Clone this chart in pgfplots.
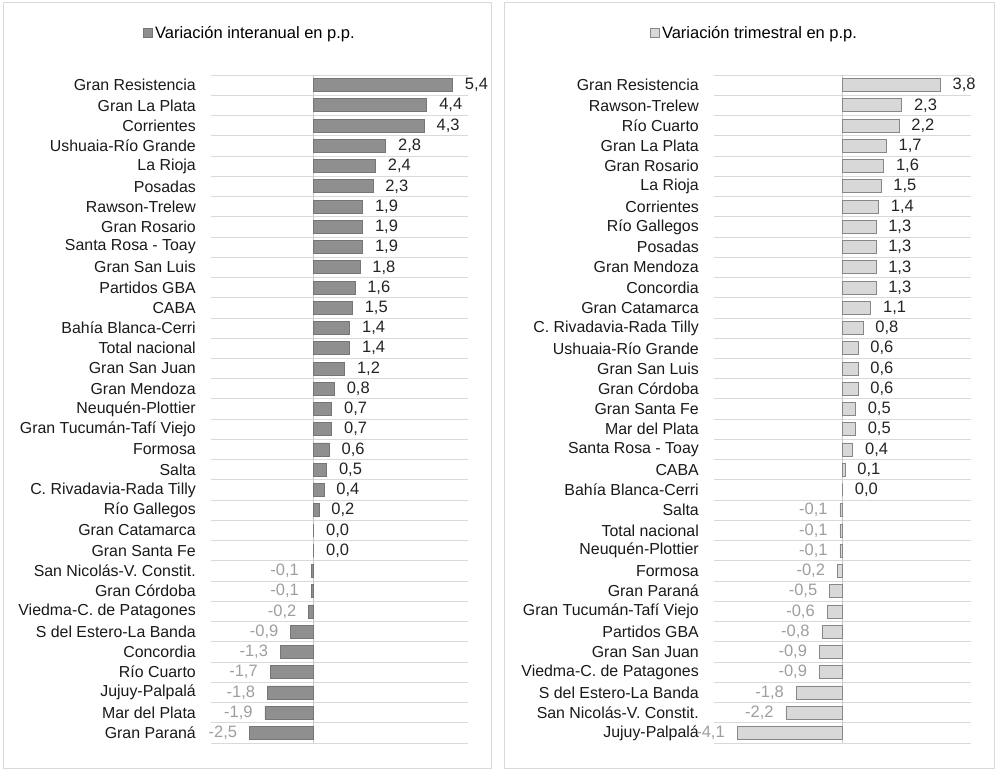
\documentclass[border=0pt]{standalone}
\usepackage{pgfplots}
\pgfplotsset{compat=1.18}
\usepackage{fontspec}
\setmainfont{Liberation Sans}
\definecolor{barA}{RGB}{143,143,143}
\definecolor{barAedge}{RGB}{118,118,118}
\definecolor{barB}{RGB}{216,216,216}
\definecolor{barBedge}{RGB}{135,135,135}
\definecolor{gridc}{RGB}{217,217,217}
\definecolor{zeroc}{RGB}{200,200,200}
\definecolor{neglab}{RGB}{158,158,158}
\definecolor{poslab}{RGB}{35,35,35}
\definecolor{catlab}{RGB}{25,25,25}
\pgfplotsset{
  panel/.style={
    scale only axis, width=257pt, height=668pt,
    anchor=south west,
    ymin=-0.5, ymax=32.5, y dir=reverse,
    ytick={0,...,32},
    minor ytick={-0.5,0.5,...,32.5},
    yminorgrids, minor grid style={gridc, line width=0.8pt},
    xtick=\empty,
    extra x ticks={0}, extra x tick labels={},
    extra x tick style={xmajorgrids=true, major grid style={zeroc, line width=0.8pt}},
    axis line style={draw=none},
    major tick length=0pt, minor tick length=0pt,
    yticklabel style={font=\fontsize{15.9pt}{18pt}\selectfont, text=catlab, inner sep=0pt, xshift=-15pt},
    xbar, bar width=13pt, bar shift=0pt,
    clip=false,
    /pgf/number format/.cd, fixed, fixed zerofill, precision=1, use comma, assume math mode=true,
    /pgfplots/.cd,
    legend style={draw=none, fill=none, inner sep=0pt, font=\fontsize{16.5pt}{18pt}\selectfont,
      anchor=center, legend cell align=left},
  },
  posl/.style={nodes near coords, every node near coord/.append style={anchor=west, xshift=12pt, inner sep=0pt, text=poslab, font=\fontsize{16.5pt}{18pt}\selectfont}},
  negl/.style={nodes near coords, every node near coord/.append style={anchor=east, xshift=-12pt, inner sep=0pt, text=neglab, font=\fontsize{16.5pt}{18pt}\selectfont}},
}
\begin{document}
\begin{tikzpicture}
\useasboundingbox (0,0) rectangle (1000pt,777pt);
\draw[gridc, line width=1pt] (3pt,9pt) rectangle (491pt,774pt);
\draw[gridc, line width=1pt] (504pt,9pt) rectangle (994pt,774pt);
\begin{axis}[panel, at={(211pt,34pt)}, xmin=-4, xmax=6,
  yticklabels={Gran Resistencia, Gran La Plata, Corrientes, Ushuaia-Río Grande, La Rioja, Posadas, Rawson-Trelew, Gran Rosario, Santa Rosa - Toay, Gran San Luis, Partidos GBA, CABA, Bahía Blanca-Cerri, Total nacional, Gran San Juan, Gran Mendoza, Neuquén-Plottier, Gran Tucumán-Tafí Viejo, Formosa, Salta, C. Rivadavia-Rada Tilly, Río Gallegos, Gran Catamarca, Gran Santa Fe, San Nicolás-V. Constit., Gran Córdoba, Viedma-C. de Patagones, S del Estero-La Banda, Concordia, Río Cuarto, Jujuy-Palpalá, Mar del Plata, Gran Paraná},
  legend style={at={(0.152,1.063)}},
  legend image code/.code={\draw[fill=barA, draw=barAedge, line width=0.8pt] (0pt,-4.5pt) rectangle (9pt,4.5pt);},
]
\addplot[fill=barA, draw=barAedge, line width=0.8pt, posl] coordinates {
(5.4,0) (4.4,1) (4.3,2) (2.8,3) (2.4,4) (2.3,5) (1.9,6) (1.9,7) (1.9,8) (1.8,9) (1.6,10) (1.5,11) (1.4,12) (1.4,13) (1.2,14) (0.8,15) (0.7,16) (0.7,17) (0.6,18) (0.5,19) (0.4,20) (0.2,21) (0.0,22) (0.0,23)};
\addlegendentry{Variación interanual en p.p.}
\addplot[fill=barA, draw=barAedge, line width=0.8pt, negl, forget plot] coordinates {
(-0.1,24) (-0.1,25) (-0.2,26) (-0.9,27) (-1.3,28) (-1.7,29) (-1.8,30) (-1.9,31) (-2.5,32)};
\end{axis}
\begin{axis}[panel, at={(714pt,34pt)}, xmin=-5, xmax=5,
  yticklabels={Gran Resistencia, Rawson-Trelew, Río Cuarto, Gran La Plata, Gran Rosario, La Rioja, Corrientes, Río Gallegos, Posadas, Gran Mendoza, Concordia, Gran Catamarca, C. Rivadavia-Rada Tilly, Ushuaia-Río Grande, Gran San Luis, Gran Córdoba, Gran Santa Fe, Mar del Plata, Santa Rosa - Toay, CABA, Bahía Blanca-Cerri, Salta, Total nacional, Neuquén-Plottier, Formosa, Gran Paraná, Gran Tucumán-Tafí Viejo, Partidos GBA, Gran San Juan, Viedma-C. de Patagones, S del Estero-La Banda, San Nicolás-V. Constit., Jujuy-Palpalá},
  legend style={at={(0.158,1.063)}},
  legend image code/.code={\draw[fill=barB, draw=barBedge, line width=0.8pt] (0pt,-4.5pt) rectangle (9pt,4.5pt);},
]
\addplot[fill=barB, draw=barBedge, line width=0.8pt, posl] coordinates {
(3.8,0) (2.3,1) (2.2,2) (1.7,3) (1.6,4) (1.5,5) (1.4,6) (1.3,7) (1.3,8) (1.3,9) (1.3,10) (1.1,11) (0.8,12) (0.6,13) (0.6,14) (0.6,15) (0.5,16) (0.5,17) (0.4,18) (0.1,19) (0.0,20)};
\addlegendentry{Variación trimestral en p.p.}
\addplot[fill=barB, draw=barBedge, line width=0.8pt, negl, forget plot] coordinates {
(-0.1,21) (-0.1,22) (-0.1,23) (-0.2,24) (-0.5,25) (-0.6,26) (-0.8,27) (-0.9,28) (-0.9,29) (-1.8,30) (-2.2,31) (-4.1,32)};
\end{axis}
\end{tikzpicture}
\end{document}
